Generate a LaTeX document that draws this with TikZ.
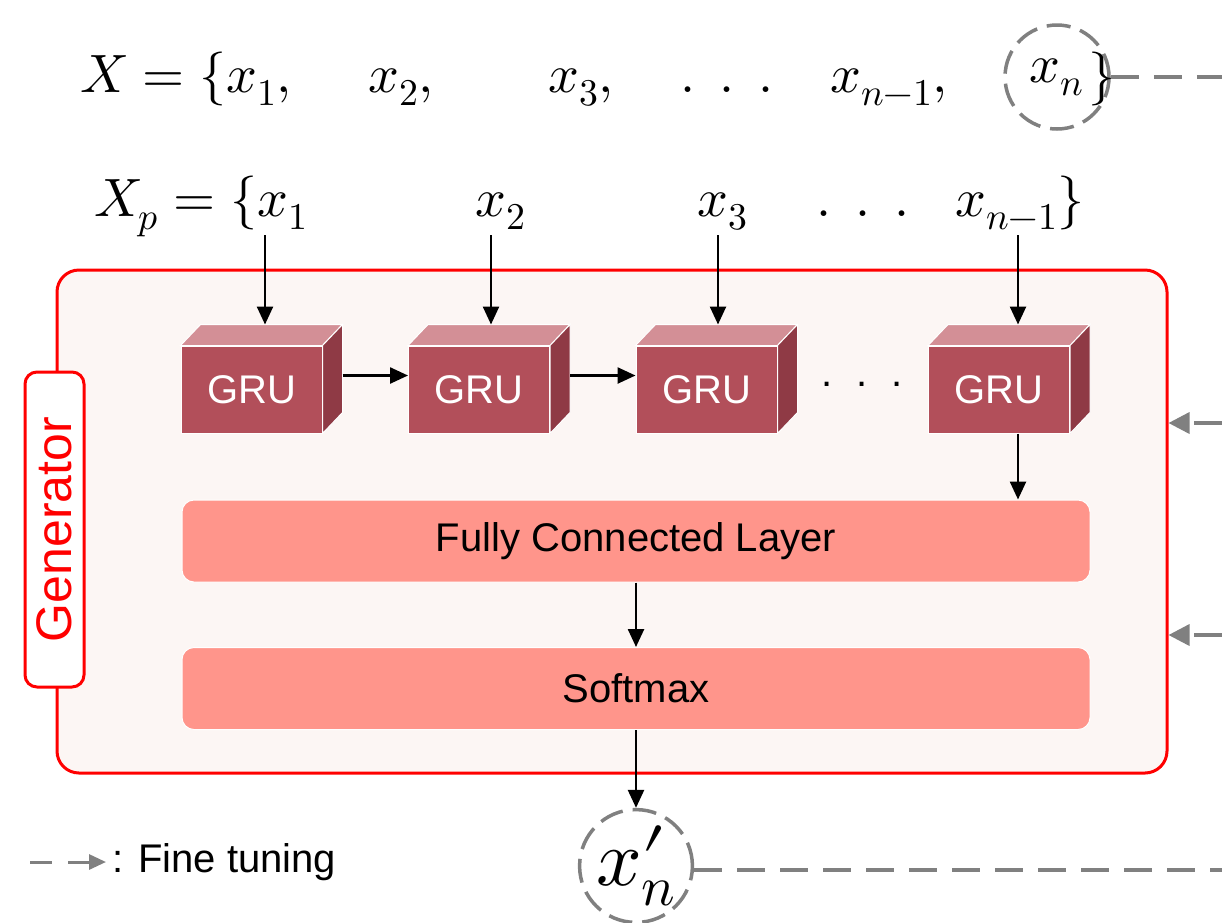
\documentclass[tikz,border=0pt]{standalone}
\usepackage{fontspec}
\usepackage{unicode-math}
\setmainfont{Liberation Sans}
\setmathfont{Latin Modern Math}
\usetikzlibrary{arrows.meta}
\definecolor{genfill}{HTML}{FCF6F4}
\definecolor{genred}{HTML}{FF0000}
\definecolor{grufront}{HTML}{B24F5A}
\definecolor{grutop}{HTML}{D38F96}
\definecolor{gruside}{HTML}{8F3A45}
\definecolor{layerfill}{HTML}{FF958B}
\definecolor{ftgray}{HTML}{808080}
\newcommand\grucube[3]{%
  \node[gru] (#1) at (#2,#3) {GRU};
  \filldraw[fill=grutop,draw=white,line width=1pt] (#1.north west) -- ([shift={(20,-21)}]#1.north west) -- ([shift={(20,-21)}]#1.north east) -- (#1.north east) -- cycle;
  \filldraw[fill=gruside,draw=white,line width=1pt] (#1.north east) -- ([shift={(20,-21)}]#1.north east) -- ([shift={(20,-21)}]#1.south east) -- (#1.south east) -- cycle;
  \coordinate (#1t) at ([shift={(0,-21)}]#1.north);
  \coordinate (#1s) at ([shift={(20,-14)}]#1.east);
}
\begin{document}
\begin{tikzpicture}[x=1pt,y=-1pt,
  arr/.style={-{Triangle[length=18pt,width=16pt]},line width=2.5pt,black},
  ft/.style={draw=ftgray,line width=3.5pt,dash pattern=on 28pt off 15pt},
  ftarr/.style={ft,-{Triangle[length=21pt,width=21pt,fill=ftgray]}},
  mt/.style={font=\fontsize{54}{60}\selectfont,inner sep=0pt,anchor=base west},
  gru/.style={fill=grufront,draw=white,line width=1pt,minimum width=141pt,minimum height=87pt,inner sep=0pt,text=white,font=\fontsize{40}{44}\selectfont},
  layer/.style={fill=layerfill,draw=white,line width=1pt,rounded corners=12pt,minimum width=908pt,minimum height=82pt,inner sep=0pt,font=\fontsize{40}{44}\selectfont},
  circ/.style={circle,draw=ftgray,line width=3.5pt,dash pattern=on 24pt off 10pt,minimum size=104pt,inner sep=0pt}
]
\useasboundingbox (0,0) rectangle (1222,922);
\fill[white] (0,0) rectangle (1222,922);

% generator frame
\node[draw=genred,fill=genfill,line width=3pt,rounded corners=22pt,minimum width=1110pt,minimum height=503pt,inner sep=0pt] (gen) at (612,521.5) {};
\node[draw=genred,fill=white,line width=3pt,rounded corners=12pt,minimum width=315pt,minimum height=59pt,inner sep=0pt,rotate=90,text=genred,font=\fontsize{50}{56}\selectfont] (glab) at (54.5,529.5) {Generator};

% top row
\node[mt] (t1) at (80,92) {$X=\{x_1,$};
\node[mt] (t2) at (368,92) {$x_2,$};
\node[mt] (t3) at (548,92) {$x_3,$};
\node[mt] (t4) at (680,92) {$.\hspace{24pt}.\hspace{24pt}.$};
\node[mt] (t5) at (830,92) {$x_{n-1},$};
\node[circ] (xn) at (1057,77) {\fontsize{54}{60}\selectfont$x_n$};
\node[mt] (tb) at (1088,92) {$\}$};

% second row
\node[mt] (p1) at (94,216) {$X_p=\{x_1$};
\node[mt] (p2) at (475,216) {$x_2$};
\node[mt] (p3) at (697,216) {$x_3$};
\node[mt] (p4) at (816,216) {$.\hspace{24pt}.\hspace{24pt}.$};
\node[mt] (p5) at (955,216) {$x_{n-1}\}$};

% GRU cubes
\grucube{g1}{251.5}{389.5}
\grucube{g2}{479}{389.5}
\grucube{g3}{706.5}{389.5}
\grucube{g4}{999}{389.5}
\node[font=\fontsize{40}{44}\selectfont,inner sep=0pt,anchor=base] (gd) at (862,386) {.\hspace{24pt}.\hspace{24pt}.};

% layers
\node[layer] (fc) at (636,541) {Fully Connected Layer};
\node[layer] (sm) at (636,688.5) {Softmax};

% output
\node[circ] (xo) at (636,866) {\fontsize{80}{88}\selectfont$x\rlap{$\prime$}_{n}$};

% input arrows
\coordinate (in1) at (265,235);
\coordinate (in2) at (491,235);
\coordinate (in3) at (718,235);
\coordinate (in4) at (1018,235);
\draw[arr] (in1) -- (in1 |- g1t);
\draw[arr] (in2) -- (in2 |- g2t);
\draw[arr] (in3) -- (in3 |- g3t);
\draw[arr] (in4) -- (in4 |- g4t);

% recurrent arrows
\draw[arr] (g1s) -- (g2.west |- g1s);
\draw[arr] (g2s) -- (g3.west |- g2s);
\draw[arr] (in4 |- g4.south) -- (in4 |- fc.north);
\draw[arr] (fc) -- (sm);
\draw[arr] (sm) -- (xo);

% fine tuning
\coordinate (e1) at (1222,77);
\coordinate (e2) at (1222,423);
\coordinate (e3) at (1222,635);
\coordinate (e4) at (1222,870);
\draw[ft] (xn.east) -- (xn.east -| e1);
\draw[ftarr] (e2) -- (e2 -| gen.east);
\draw[ftarr] (e3) -- (e3 -| gen.east);
\draw[ft] (xo.east |- e4) -- (e4);

% legend
\coordinate (l1) at (30,862);
\coordinate (l2) at (106,862);
\draw[ftarr,line width=3pt,dash pattern=on 22pt off 16pt,-{Triangle[length=17pt,width=15pt,fill=ftgray]}] (l1) -- (l2);
\node[anchor=west,inner sep=0pt,font=\fontsize{40}{44}\selectfont] (lt) at (112,862) {: Fine tuning};
\end{tikzpicture}
\end{document}
